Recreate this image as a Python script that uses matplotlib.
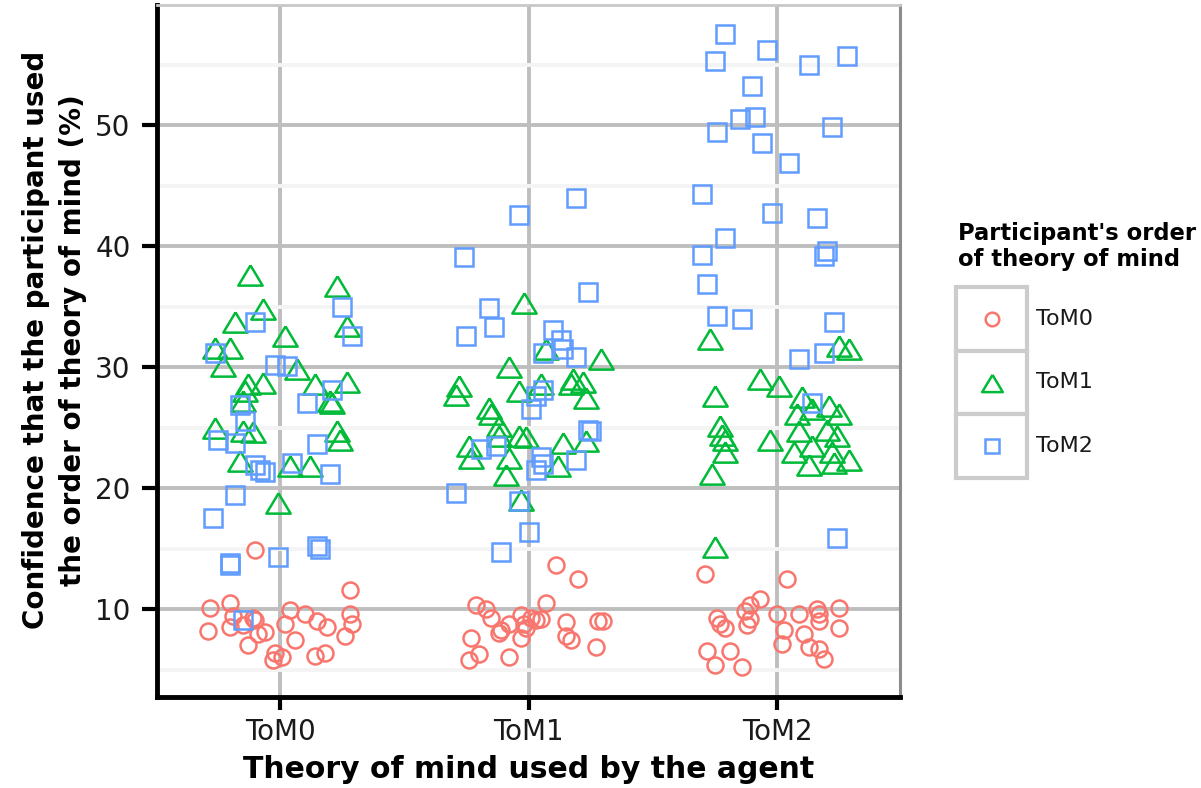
import numpy as np
import matplotlib
matplotlib.use('Agg')
import matplotlib.pyplot as plt
from matplotlib.patches import Rectangle

agents = ['ToM0', 'ToM1', 'ToM2']
orders = ['ToM0', 'ToM1', 'ToM2']

# participant ToM0 (jitter offset from category, confidence %)
r_jit0 = [-0.10, 0.28, -0.28, -0.20, 0.04, 0.10, 0.28, -0.19, -0.11, 0.15, 0.19, 0.29, 0.02, -0.10,
          -0.20, -0.29, -0.15, -0.09, -0.06, 0.26, -0.13, 0.06, -0.02, -0.03, 0.01, 0.14, 0.18]
r_val0 = [14.9, 11.6, 10.1, 10.5, 9.9, 9.6, 9.6, 9.4, 9.3, 9.0, 8.5, 8.8, 8.8, 9.1,
          8.5, 8.2, 8.7, 7.9, 8.1, 7.8, 7.0, 7.4, 6.4, 5.8, 6.0, 6.1, 6.4]
r_jit1 = [0.11, 0.20, 0.07, -0.21, -0.17, -0.15, -0.03, 0.05, 0.03, -0.02, 0.15, 0.30, -0.08,
          -0.11, -0.12, -0.01, -0.03, 0.15, 0.17, -0.23, 0.27, -0.20, -0.24, -0.08, 0.28, 0.01]
r_val1 = [13.6, 12.5, 10.5, 10.3, 10.0, 9.3, 9.5, 9.2, 9.1, 8.8, 8.9, 9.0, 8.8,
          8.3, 8.0, 8.4, 7.6, 7.8, 7.4, 7.6, 6.9, 6.3, 5.8, 6.0, 9.0, 9.3]
r_jit2 = [-0.29, 0.04, -0.07, -0.11, -0.13, 0.00, 0.09, 0.16, 0.25, 0.17, -0.24, -0.11, 0.17, -0.23,
          -0.21, -0.12, 0.25, 0.03, 0.11, 0.02, 0.13, 0.17, 0.19, -0.28, -0.19, -0.25, -0.14]
r_val2 = [12.9, 12.5, 10.8, 10.3, 9.8, 9.6, 9.6, 10.0, 10.1, 9.6, 9.3, 9.2, 9.0, 8.8,
          8.4, 8.7, 8.4, 8.3, 7.9, 7.1, 6.9, 6.7, 5.9, 6.5, 6.5, 5.4, 5.2]

# participant ToM1
g_jit0 = [-0.12, 0.23, -0.07, -0.18, 0.27, 0.02, -0.26, -0.20, -0.23, 0.07, -0.13, -0.07, 0.14, 0.27,
          -0.14, -0.15, 0.20, 0.21, -0.26, -0.15, -0.11, 0.23, 0.24, -0.16, 0.04, 0.12, -0.01]
g_val0 = [37.6, 36.7, 34.8, 33.7, 33.4, 32.6, 31.6, 31.6, 30.1, 29.8, 28.6, 28.7, 28.6, 28.8,
          28.0, 27.2, 27.2, 27.0, 25.0, 24.7, 24.6, 24.7, 24.0, 22.2, 21.8, 21.8, 18.8]
g_jit1 = [-0.02, 0.07, 0.29, -0.08, -0.28, -0.29, 0.18, 0.17, 0.22, 0.05, -0.04, 0.23, -0.16,
          -0.15, -0.12, -0.04, -0.01, -0.12, 0.14, 0.23, -0.24, -0.23, -0.08, 0.12, -0.09, -0.03]
g_val1 = [35.3, 31.5, 30.7, 30.0, 28.4, 27.7, 29.0, 28.6, 28.8, 28.6, 28.0, 27.4, 26.6,
          26.1, 25.1, 24.3, 24.2, 24.3, 23.7, 23.9, 23.5, 22.5, 22.5, 21.8, 21.1, 19.0]
g_jit2 = [-0.27, 0.25, 0.29, -0.07, 0.01, -0.25, 0.10, 0.21, 0.25, 0.14, 0.08, -0.23, -0.22, -0.21,
          -0.21, 0.09, 0.20, 0.24, -0.03, 0.14, 0.07, 0.22, 0.29, 0.13, 0.23, -0.26, -0.25]
g_val2 = [32.3, 31.7, 31.5, 29.0, 28.4, 27.6, 27.5, 26.8, 26.1, 26.5, 26.1, 25.1, 24.4, 24.0,
          23.0, 24.7, 24.8, 24.3, 24.0, 23.5, 23.0, 23.0, 22.3, 21.9, 22.1, 21.2, 15.1]

# participant ToM2
b_jit0 = [0.25, -0.10, 0.29, -0.26, -0.02, 0.03, 0.21, 0.11, -0.16, -0.14, -0.25, -0.18, 0.15,
          -0.10, -0.06, -0.08, 0.05, 0.20, -0.18, -0.27, -0.20, -0.20, -0.01, 0.15, 0.16, -0.15]
b_val0 = [35.0, 33.7, 32.6, 31.2, 30.2, 30.1, 28.1, 27.0, 26.9, 25.5, 24.0, 23.7, 23.6,
          21.9, 21.3, 21.5, 22.1, 21.2, 19.4, 17.5, 13.6, 13.8, 14.3, 15.2, 15.0, 9.1]
b_jit1 = [0.19, -0.04, -0.26, 0.24, -0.16, -0.14, -0.25, 0.10, 0.13, 0.14, 0.06, 0.19, 0.06, 0.03,
          0.01, 0.24, 0.25, -0.19, -0.13, 0.05, 0.06, 0.03, 0.19, -0.29, -0.04, 0.00, -0.11]
b_val1 = [44.0, 42.6, 39.1, 36.2, 34.9, 33.3, 32.6, 33.1, 32.2, 31.5, 31.2, 30.8, 28.1, 27.6,
          26.5, 24.8, 24.7, 23.2, 23.5, 22.6, 22.0, 21.5, 22.3, 19.6, 18.9, 16.4, 14.7]
b_jit2 = [-0.21, -0.04, -0.25, 0.13, 0.28, -0.10, -0.15, -0.09, -0.24, 0.22, -0.06, 0.05, -0.30, -0.02,
          0.16, -0.21, -0.30, 0.20, 0.19, -0.28, -0.24, -0.14, 0.23, 0.19, 0.09, 0.14, 0.24]
b_val2 = [57.5, 56.2, 55.3, 55.0, 55.7, 53.2, 50.5, 50.7, 49.4, 49.8, 48.5, 46.9, 44.3, 42.7,
          42.3, 40.7, 39.3, 39.6, 39.2, 36.9, 34.2, 34.0, 33.7, 31.2, 30.7, 27.0, 15.9]

jitters = {'ToM0': [r_jit0, r_jit1, r_jit2], 'ToM1': [g_jit0, g_jit1, g_jit2], 'ToM2': [b_jit0, b_jit1, b_jit2]}
values = {'ToM0': [r_val0, r_val1, r_val2], 'ToM1': [g_val0, g_val1, g_val2], 'ToM2': [b_val0, b_val1, b_val2]}

colors = {'ToM0': '#F8766D', 'ToM1': '#00BA38', 'ToM2': '#619CFF'}
tri = [(0, 0.5), (-0.6, -0.5), (0.6, -0.5), (0, 0.5)]
markers = {'ToM0': ('o', 11.5), 'ToM1': (tri, 17.5), 'ToM2': ('s', 12.5)}

plt.rcParams['font.family'] = 'DejaVu Sans'

fig = plt.figure(figsize=(12.01, 7.88), dpi=100)
ax = fig.add_axes([157 / 1201, 91 / 788, 743 / 1201, 692 / 788])

for order in orders:
    m, ms = markers[order]
    for i in range(len(agents)):
        x = i + np.array(jitters[order][i])
        ax.plot(x, values[order][i], linestyle='none', marker=m, markersize=ms,
                markerfacecolor='none', markeredgecolor=colors[order], markeredgewidth=1.8)

ax.set_xlim(-0.495, 2.495)
ax.set_ylim(2.73, 59.92)
ax.set_xticks(range(len(agents)))
ax.set_xticklabels(agents)
ax.set_yticks([10, 20, 30, 40, 50])
ax.set_yticks([5, 15, 25, 35, 45, 55], minor=True)
ax.set_axisbelow(True)
ax.grid(which='major', color='#BEBEBE', linewidth=2.8)
ax.grid(which='minor', axis='y', color='#F4F4F4', linewidth=2.8)

ax.tick_params(axis='y', which='major', length=11, width=3, color='black', labelsize=20, pad=8, labelcolor='#1A1A1A')
ax.tick_params(axis='x', which='major', length=9, width=3, color='black', labelsize=20, pad=6, labelcolor='#1A1A1A')
ax.tick_params(which='minor', length=0)

for s in ['left', 'bottom']:
    ax.spines[s].set_color('black')
    ax.spines[s].set_linewidth(3.5)
ax.spines['top'].set_color('#C8C8C8')
ax.spines['top'].set_linewidth(2)
ax.spines['right'].set_color('#8C8C8C')
ax.spines['right'].set_linewidth(2.2)

ax.set_xlabel('Theory of mind used by the agent', fontsize=21.5, fontweight='bold')
ax.xaxis.set_label_coords(0.5, -0.084)
ax.set_ylabel('Confidence that the participant used\nthe order of theory of mind (%)',
              fontsize=20, fontweight='bold', linespacing=1.4)
ax.yaxis.set_label_coords(-0.094, 0.516)

# legend
fig.text(958 / 1201, 1 - 222 / 788, "Participant's order\nof theory of mind",
         fontsize=16.3, fontweight='bold', va='top', ha='left', linespacing=1.15)
lax = fig.add_axes([956 / 1201, (788 - 478) / 788, 71 / 1201, 191 / 788])
lax.set_xlim(0, 1)
lax.set_ylim(3, 0)
lax.axis('off')
for i, order in enumerate(orders):
    lax.add_patch(Rectangle((0, i), 1, 1, facecolor='white', edgecolor='#CCCCCC', linewidth=3, clip_on=False))
    m, ms = markers[order]
    lax.plot([0.5], [i + 0.5], linestyle='none', marker=m, markersize=ms * 0.85,
             markerfacecolor='none', markeredgecolor=colors[order], markeredgewidth=1.8)
    lax.text(1.13, i + 0.5, order, fontsize=16, va='center', ha='left', color='#1A1A1A')

fig.savefig('out.png', dpi=100)
